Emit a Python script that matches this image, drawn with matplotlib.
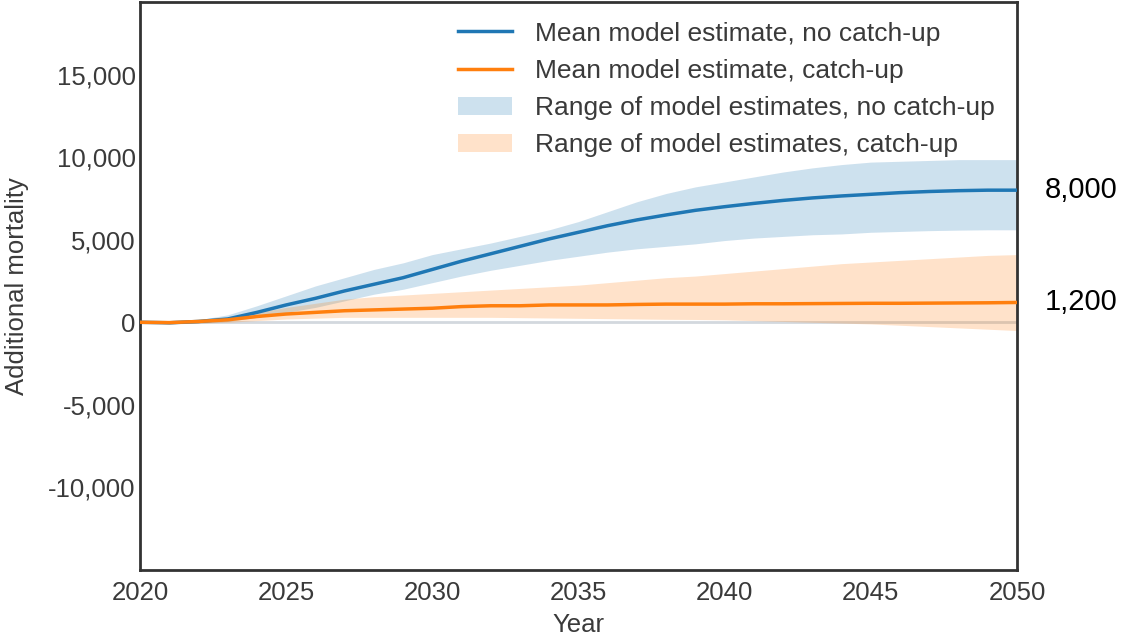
import matplotlib
matplotlib.use("Agg")
import matplotlib.pyplot as plt
from matplotlib.ticker import FuncFormatter

plt.rcParams['font.family'] = ['Liberation Sans', 'DejaVu Sans']

years = list(range(2020, 2051))

mean_no_catchup = [0, -30, 50, 200, 600, 1050, 1450, 1900, 2300, 2700, 3200,
                   3700, 4150, 4600, 5050, 5450, 5850, 6200, 6500, 6780, 7000,
                   7200, 7380, 7530, 7650, 7750, 7850, 7920, 7970, 8000, 8000]
upper_no_catchup = [0, 0, 150, 450, 1000, 1600, 2200, 2700, 3200, 3600, 4100,
                    4450, 4800, 5200, 5600, 6100, 6700, 7300, 7800, 8200, 8500,
                    8800, 9100, 9350, 9550, 9700, 9750, 9800, 9850, 9850, 9850]
lower_no_catchup = [0, -100, -50, 50, 300, 600, 900, 1300, 1700, 2000, 2400,
                    2800, 3150, 3450, 3750, 4000, 4250, 4450, 4600, 4750, 4950,
                    5100, 5200, 5300, 5350, 5450, 5500, 5550, 5580, 5600, 5600]

mean_catchup = [0, -20, 50, 150, 350, 500, 600, 700, 750, 800, 850,
                950, 1000, 1000, 1050, 1050, 1050, 1080, 1100, 1100, 1100,
                1120, 1120, 1130, 1140, 1150, 1150, 1160, 1170, 1180, 1200]
upper_catchup = [0, 50, 150, 300, 600, 900, 1150, 1400, 1550, 1650, 1750,
                 1850, 1950, 2050, 2150, 2250, 2400, 2550, 2700, 2800, 2950,
                 3100, 3250, 3400, 3550, 3650, 3750, 3850, 3950, 4050, 4100]
lower_catchup = [0, -100, -50, 0, 100, 200, 250, 300, 300, 300, 300,
                 300, 300, 280, 260, 240, 220, 200, 180, 170, 150,
                 100, 50, 0, -50, -100, -180, -260, -340, -420, -500]

end_labels = ["8,000", "1,200"]
end_values = [mean_no_catchup[-1], mean_catchup[-1]]

blue = '#1f77b4'
orange = '#ff7f0e'
text_grey = '#3a3a3a'

fig = plt.figure(figsize=(11.22, 6.4), dpi=100)
ax = fig.add_axes([0.1248, 0.1094, 0.7816, 0.8876])

ax.axhline(0, color='#d3d8de', lw=2, zorder=1)

ax.fill_between(years, lower_no_catchup, upper_no_catchup, color=blue,
                alpha=0.22, lw=0, label='Range of model estimates, no catch-up', zorder=2)
ax.fill_between(years, lower_catchup, upper_catchup, color=orange,
                alpha=0.22, lw=0, label='Range of model estimates, catch-up', zorder=2)
ax.plot(years, mean_no_catchup, color=blue, lw=2.5,
        label='Mean model estimate, no catch-up', zorder=3)
ax.plot(years, mean_catchup, color=orange, lw=2.5,
        label='Mean model estimate, catch-up', zorder=3)

ax.set_xlim(2020, 2050)
ax.set_ylim(-15000, 19400)
ax.set_xticks(range(2020, 2051, 5))
ax.set_yticks(range(-10000, 15001, 5000))
ax.yaxis.set_major_formatter(FuncFormatter(lambda v, p: f"{int(v):,}"))
ax.tick_params(axis='y', length=0, labelsize=18.5, colors=text_grey, pad=3)
ax.tick_params(axis='x', length=0, labelsize=18.5, colors=text_grey, pad=8)

for s in ax.spines.values():
    s.set_color('#333333')
    s.set_linewidth(2)

ax.set_xlabel('Year', fontsize=18.5, color=text_grey, labelpad=6)
ax.set_ylabel('Additional mortality', fontsize=18.5, color=text_grey, labelpad=14)

handles, labels = ax.get_legend_handles_labels()
order = [2, 3, 0, 1]
leg = ax.legend([handles[i] for i in order], [labels[i] for i in order],
                loc='upper right', bbox_to_anchor=(0.997, 1.0), frameon=False,
                fontsize=19, handlelength=2.05, handletextpad=0.87,
                labelspacing=0.5, borderaxespad=0.35)
for t in leg.get_texts():
    t.set_color(text_grey)

for lab, val in zip(end_labels, end_values):
    ax.annotate(lab, xy=(2050, val), xycoords='data', xytext=(46, 0),
                textcoords='offset points', ha='center', va='center',
                fontsize=21, color='black', annotation_clip=False)

fig.savefig('out.png', dpi=100)
